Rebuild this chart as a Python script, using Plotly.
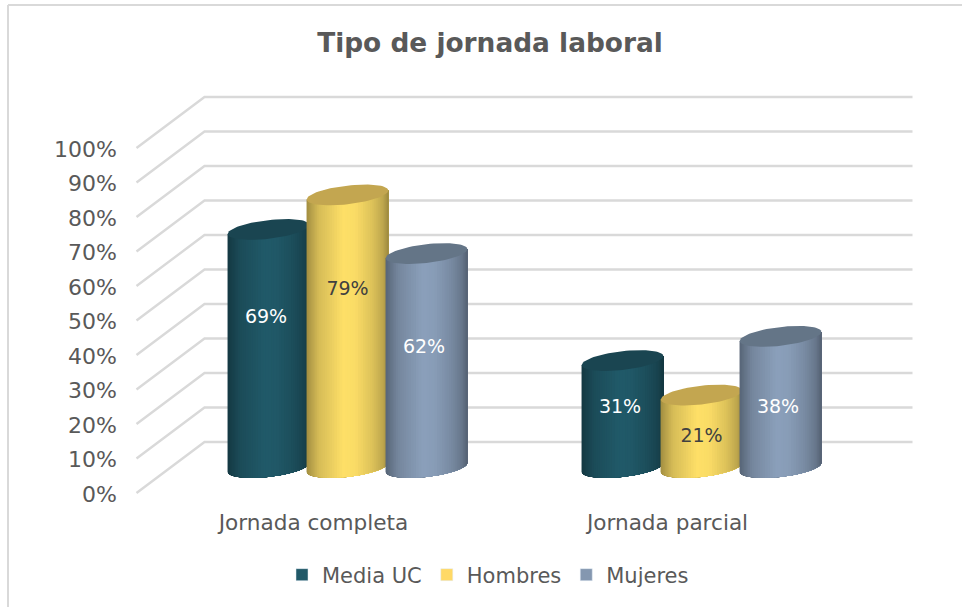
import numpy as np
import plotly.graph_objects as go

# ---- data ----
categories = ["Jornada completa", "Jornada parcial"]
media_uc = [69, 31]
hombres = [79, 21]
mujeres = [62, 38]
series_names = ["Media UC", "Hombres", "Mujeres"]
y_ticks = list(range(0, 101, 10))
y_tick_labels = [f"{v}%" for v in y_ticks]

# where Excel put the data labels (in % of the axis)
label_y = {"Media UC": [50.7, 24.6], "Hombres": [58.8, 16.2], "Mujeres": [42.0, 24.6]}

# ---- style ----
W, H = 962, 607
FONT = "DejaVu Sans"
GREY = "#595959"
GRID = "#D9D9D9"
base_rgb = {"Media UC": (33, 90, 105), "Hombres": (255, 224, 104), "Mujeres": (139, 160, 187)}
cap_rgb = {"Media UC": "#1A4551", "Hombres": "#C3A650", "Mujeres": "#647587"}
swatch = {"Media UC": "#215968", "Hombres": "#FFD966", "Mujeres": "#8497B0"}
label_col = {"Media UC": "#FFFFFF", "Hombres": "#404040", "Mujeres": "#FFFFFF"}
shade_t = [0, 0.06, 0.15, 0.45, 0.6, 0.8, 0.93, 1]
shade_v = [0.64, 0.72, 0.84, 1.0, 0.98, 0.87, 0.75, 0.62]

# ---- scales: 1 category = CAT_PX px, 1 % = PCT_PX px ----
CAT_PX, PCT_PX = 354.0, 3.45
X0_PX, Y0_PX = 313.5, 493.0
L, R, T, B = 124, 930, 60, 507          # plot area in px
px2x = lambda p: (p - X0_PX) / CAT_PX
py2v = lambda p: (Y0_PX - p) / PCT_PX

DEPTH_X, DEPTH_V = 68 / CAT_PX, 51 / PCT_PX
BAR_STEP = 79 / CAT_PX
A = 40.8 / CAT_PX                       # half cylinder width
SHEAR = 4.5 / PCT_PX
MINOR = 9.4 / PCT_PX

fig = go.Figure()

def poly(xs, ys, color, **kw):
    fig.add_trace(go.Scatter(x=xs, y=ys, mode="lines", fill="toself", fillcolor=color,
                             line=dict(width=0, color=color), hoverinfo="skip",
                             showlegend=False, **kw))

# gridlines on the floor edge and back wall
for v in y_ticks:
    fig.add_trace(go.Scatter(
        x=[-0.5, -0.5 + DEPTH_X, 1.5 + DEPTH_X],
        y=[v, v + DEPTH_V, v + DEPTH_V], mode="lines",
        line=dict(color=GRID, width=2.4), hoverinfo="skip", showlegend=False))

def cylinder(cx, value, name):
    v0 = DEPTH_V / 2
    vt = v0 + value
    ts = np.linspace(np.pi, 2 * np.pi, 49)
    bx = cx + A * np.cos(ts)
    by = v0 + SHEAR * np.cos(ts) + MINOR * np.sin(ts)
    ty = vt + SHEAR * np.cos(ts)
    rgb = np.array(base_rgb[name], dtype=float)
    frac = (bx - bx[0]) / (bx[-1] - bx[0])
    # painter's order: every strip runs to the right edge, so there are no seams
    for i in range(0, len(bx) - 1):
        mid = (frac[i] + frac[i + 1]) / 2
        c = rgb * np.interp(mid, shade_t, shade_v)
        col = "rgb(%d,%d,%d)" % tuple(c)
        xs = np.r_[bx[i:], bx[i:][::-1]]
        ys = np.r_[by[i:], ty[i:][::-1]]
        poly(xs, ys, col)
    tt = np.linspace(0, 2 * np.pi, 73)
    poly(cx + A * np.cos(tt), vt + SHEAR * np.cos(tt) + MINOR * np.sin(tt), cap_rgb[name])

series = {"Media UC": media_uc, "Hombres": hombres, "Mujeres": mujeres}
for ci in range(len(categories)):
    for si, name in enumerate(series_names):
        cx = ci + DEPTH_X / 2 + (si - 1) * BAR_STEP
        cylinder(cx, series[name][ci], name)

# data labels
for si, name in enumerate(series_names):
    fig.add_trace(go.Scatter(
        x=[ci + DEPTH_X / 2 + (si - 1) * BAR_STEP - (2.5 / CAT_PX if si != 1 else 0) for ci in range(2)],
        y=label_y[name], mode="text", text=[f"{v}%" for v in series[name]],
        textposition="middle center",
        textfont=dict(family=FONT, size=19, color=label_col[name]),
        hoverinfo="skip", showlegend=False))

# legend entries
for name in series_names:
    fig.add_trace(go.Bar(x=[None], y=[None], name=name, marker_color=swatch[name]))

px = lambda p: (p - L) / (R - L)
py = lambda p: (B - p) / (B - T)

fig.update_layout(
    width=W, height=H, autosize=False,
    margin=dict(l=L, r=W - R, t=T, b=H - B),
    paper_bgcolor="white", plot_bgcolor="white",
    font=dict(family=FONT, color=GREY),
    title=dict(text="<b>Tipo de jornada laboral</b>", x=490 / W, xref="container", xanchor="center",
               y=1 - 43 / H, yref="container", yanchor="middle",
               font=dict(family=FONT, size=26.4, color=GREY)),
    xaxis=dict(type="linear", range=[px2x(L), px2x(R)], tickvals=[0, 1], ticktext=categories,
               showgrid=False, zeroline=False, showline=False, ticks="",
               tickfont=dict(family=FONT, size=21.6, color=GREY)),
    yaxis=dict(type="linear", range=[py2v(B), py2v(T)], tickvals=y_ticks, ticktext=y_tick_labels,
               showgrid=False, zeroline=False, showline=False, ticks="", ticklabelstandoff=6,
               ticklabelshift=1,
               tickfont=dict(family=FONT, size=22, color=GREY)),
    legend=dict(orientation="h", x=px(282), xanchor="left", y=py(575), yanchor="middle",
                font=dict(family=FONT, size=21, color=GREY), bgcolor="rgba(0,0,0,0)"),
    shapes=[
        dict(type="line", xref="paper", yref="paper", x0=px(8), x1=px(8), y0=py(5), y1=py(607),
             line=dict(color=GRID, width=2)),
        dict(type="line", xref="paper", yref="paper", x0=px(8), x1=px(962), y0=py(5), y1=py(5),
             line=dict(color=GRID, width=2)),
    ],
)
fig.write_html("out.html", config=dict(displayModeBar=False),
               post_script="document.body.style.margin='0';document.body.style.overflow='hidden';")
